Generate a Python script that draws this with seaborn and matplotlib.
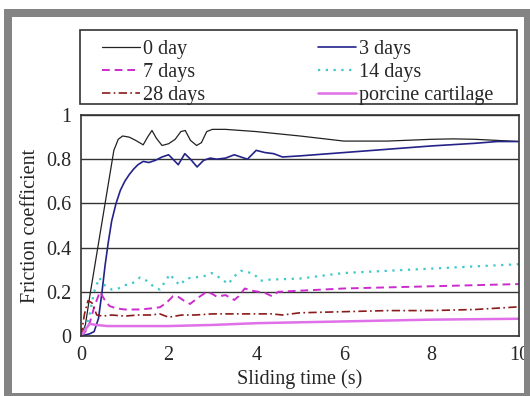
import numpy as np
import pandas as pd
import matplotlib
matplotlib.use("Agg")
import matplotlib.pyplot as plt
from matplotlib.patches import Rectangle
import seaborn as sns

# Friction coefficient vs sliding time
t_0day = [0, 0.1, 0.2, 0.4, 0.6, 0.75, 0.85, 0.95, 1.1, 1.25, 1.42, 1.52, 1.62, 1.72, 1.85, 2.0, 2.15, 2.28, 2.38, 2.5, 2.64, 2.75, 2.87, 3.0, 3.3, 4.0, 5.0, 6.0, 7.0, 8.0, 8.5, 9.0, 9.5, 10]
f_0day = [0, 0.05, 0.18, 0.42, 0.66, 0.84, 0.89, 0.905, 0.9, 0.885, 0.865, 0.9, 0.93, 0.895, 0.862, 0.87, 0.89, 0.925, 0.93, 0.885, 0.862, 0.875, 0.925, 0.935, 0.935, 0.925, 0.905, 0.882, 0.882, 0.89, 0.892, 0.89, 0.885, 0.88]

t_3days = [0, 0.2, 0.3, 0.4, 0.48, 0.55, 0.62, 0.7, 0.8, 0.9, 1.0, 1.1, 1.2, 1.3, 1.42, 1.55, 1.7, 1.85, 2.0, 2.1, 2.22, 2.37, 2.5, 2.65, 2.8, 2.95, 3.1, 3.3, 3.5, 3.65, 3.8, 4.0, 4.2, 4.4, 4.6, 5.0, 6.0, 7.0, 8.0, 9.0, 9.5, 10]
f_3days = [0, 0.01, 0.02, 0.08, 0.2, 0.32, 0.42, 0.52, 0.6, 0.66, 0.7, 0.73, 0.755, 0.775, 0.79, 0.785, 0.795, 0.81, 0.82, 0.8, 0.775, 0.825, 0.8, 0.765, 0.795, 0.805, 0.8, 0.805, 0.82, 0.81, 0.8, 0.84, 0.83, 0.825, 0.81, 0.815, 0.83, 0.845, 0.86, 0.872, 0.88, 0.88]

t_7days = [0, 0.1, 0.2, 0.3, 0.43, 0.55, 0.65, 0.8, 1.0, 1.35, 1.6, 1.8, 1.95, 2.1, 2.2, 2.35, 2.49, 2.65, 2.87, 3.0, 3.1, 3.3, 3.5, 3.6, 3.74, 3.9, 4.05, 4.2, 4.36, 4.5, 5.0, 6.0, 7.0, 8.0, 9.0, 10]
f_7days = [0, 0.02, 0.06, 0.13, 0.2, 0.16, 0.136, 0.125, 0.12, 0.12, 0.125, 0.13, 0.15, 0.18, 0.18, 0.16, 0.145, 0.17, 0.2, 0.19, 0.178, 0.185, 0.163, 0.18, 0.215, 0.205, 0.2, 0.195, 0.18, 0.2, 0.205, 0.215, 0.22, 0.225, 0.23, 0.235]

t_14days = [0, 0.1, 0.2, 0.3, 0.42, 0.5, 0.7, 0.85, 1.0, 1.15, 1.35, 1.5, 1.65, 1.8, 2.03, 2.15, 2.26, 2.4, 2.6, 2.8, 2.98, 3.2, 3.36, 3.5, 3.65, 3.8, 3.95, 4.1, 4.3, 5.0, 6.0, 7.0, 8.0, 9.0, 10]
f_14days = [0, 0.03, 0.1, 0.2, 0.264, 0.235, 0.21, 0.215, 0.23, 0.235, 0.265, 0.25, 0.225, 0.21, 0.28, 0.25, 0.23, 0.26, 0.265, 0.27, 0.285, 0.26, 0.235, 0.27, 0.295, 0.29, 0.28, 0.25, 0.255, 0.26, 0.285, 0.295, 0.305, 0.315, 0.325]

t_28days = [0, 0.08, 0.16, 0.25, 0.36, 0.5, 0.7, 1.0, 1.3, 1.6, 1.8, 2.0, 2.3, 2.6, 3.0, 3.5, 4.0, 4.35, 4.6, 5.0, 6.0, 7.0, 8.0, 9.0, 10]
f_28days = [0, 0.1, 0.16, 0.15, 0.095, 0.09, 0.095, 0.09, 0.095, 0.095, 0.1, 0.085, 0.095, 0.095, 0.1, 0.1, 0.1, 0.1, 0.095, 0.105, 0.11, 0.115, 0.115, 0.12, 0.132]

t_porcine = [0, 0.1, 0.2, 0.35, 0.6, 1.0, 2.0, 3.0, 4.0, 5.0, 6.0, 7.0, 8.0, 9.0, 10]
f_porcine = [0, 0.03, 0.055, 0.05, 0.045, 0.045, 0.045, 0.05, 0.058, 0.062, 0.066, 0.07, 0.074, 0.076, 0.078]

x_ticks = [0, 2, 4, 6, 8, 10]
y_ticks = [0, 0.2, 0.4, 0.6, 0.8, 1]
y_ticklabels = ["0", "0.2", "0.4", "0.6", "0.8", "1"]

sns.set_style("white")
plt.rcParams['font.family'] = ['Liberation Serif', 'DejaVu Serif']
plt.rcParams['font.size'] = 14.5

fig = plt.figure(figsize=(5.3, 3.96), dpi=100)
ax = fig.add_axes([81/530, 1-336/396, 438/530, 221/396])

# grey outer frame
grey = '#848484'
for (x0, y0, w, h) in [(4, 9, 526, 8), (4, 9, 8, 387), (524, 9, 6, 387), (4, 393, 526, 3)]:
    fig.add_artist(Rectangle((x0/530, 1-(y0+h)/396), w/530, h/396,
                             transform=fig.transFigure, color=grey, lw=0))

series = [
    ("0 day", t_0day, f_0day, '#222222', '-', 0.9),
    ("3 days", t_3days, f_3days, '#23238a', '-', 1.2),
    ("7 days", t_7days, f_7days, '#cc2ccc', (0, (4, 2.5)), 1.4),
    ("14 days", t_14days, f_14days, '#3cc8cc', (0, (1, 2.5)), 1.6),
    ("28 days", t_28days, f_28days, '#8b1a1a', (0, (5, 2, 1, 2)), 1.2),
    ("porcine cartilage", t_porcine, f_porcine, '#e070e8', '-', 1.8),
]
handles = {}
for name, t, f, c, ls, lw in series:
    df = pd.DataFrame({'t': t, 'f': f})
    sns.lineplot(data=df, x='t', y='f', ax=ax, color=c, linestyle=ls, linewidth=lw, label=name)
for line in ax.get_lines():
    handles[line.get_label()] = line

ax.set_xlim(0, 10)
ax.set_ylim(0, 1)
ax.set_xticks(x_ticks)
ax.set_xticks([1, 3, 5, 7, 9], minor=True)
ax.set_yticks(y_ticks)
ax.set_yticklabels(y_ticklabels)
ax.tick_params(axis='x', which='both', direction='in', length=5, width=1, color='#333333', pad=7)
ax.tick_params(axis='y', length=0, pad=7)
ax.yaxis.grid(True, color='#333333', linewidth=1)
ax.xaxis.grid(False)
for s in ax.spines.values():
    s.set_color('#333333')
    s.set_linewidth(1.2)
ax.set_xlabel("Sliding time (s)", labelpad=3)
ax.set_ylabel("Friction coefficient", labelpad=4)
ax.get_legend().remove()

# legend box drawn separately so the padding matches the original
fig.add_artist(Rectangle((80/530, 1-104/396), 437/530, 74/396, transform=fig.transFigure,
                         fill=False, edgecolor='#333333', lw=1.2))
order = ["0 day", "7 days", "28 days", "3 days", "14 days", "porcine cartilage"]
leg = fig.legend([handles[k] for k in order], order, ncol=2, loc='upper left',
                 bbox_to_anchor=(102/530, 1-40/396), bbox_transform=fig.transFigure,
                 frameon=False, handlelength=1.9, handletextpad=0.15, columnspacing=5.6,
                 borderpad=0, labelspacing=0.2, borderaxespad=0)

fig.savefig("out.png", dpi=100)
